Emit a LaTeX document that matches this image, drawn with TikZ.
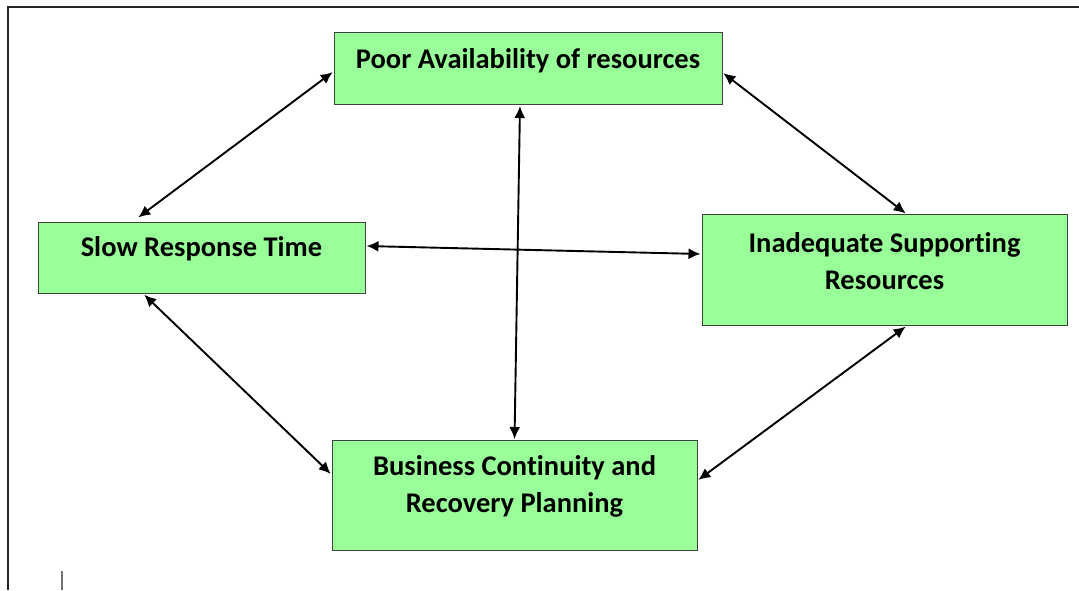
\documentclass[tikz,border=0pt]{standalone}
\usepackage{fontspec}
\setmainfont{Carlito}[Ligatures={NoCommon}]
\usetikzlibrary{arrows.meta}
\definecolor{boxgreen}{RGB}{153,255,153}

\begin{document}
\begin{tikzpicture} [x=0.5pt,y=-0.5pt,
			issue/.style={draw=black!75,line width=0.5pt,fill=boxgreen,align=center,inner xsep=0pt,inner ysep=0pt,
				font=\fontsize{14.25}{18.5}\selectfont\bfseries,anchor=north},
			link/.style={{Latex[length=6pt,width=5.5pt]}-{Latex[length=6pt,width=5.5pt]},line width=0.95pt,shorten >=0.5pt,shorten <=0.5pt}]
			\useasboundingbox (0,0) rectangle (1079,590);
			\draw[black!85,line width=0.6pt] (1079,7) -- (8,7) -- (8,590);
			\draw[black!55,line width=0.8pt] (62,571) -- (62,590);

			\node[issue,minimum width=194pt,text height=18pt,text depth=18pt] (poor) at (528,32) {Poor Availability of resources};
			\node[issue,minimum width=163.5pt,text height=17pt,text depth=18.5pt] (slow) at (201.5,222) {Slow Response Time};
			\node[issue,minimum width=182.5pt,text height=37.5pt,text depth=18pt] (inad) at (884.5,214) {Inadequate Supporting\\Resources};
			\node[issue,minimum width=182.5pt,text height=36pt,text depth=19pt] (bus) at (514.5,440) {Business Continuity and\\Recovery Planning};

			\draw[link] ([yshift=-1.5pt]poor.west) -- ([xshift=-32pt,yshift=2pt]slow.north);
			\draw[link] ([yshift=-2pt]poor.east) -- ([xshift=11pt]inad.north);
			\draw[link] ([xshift=-4pt]poor.south) -- (bus.north);
			\draw[link] ([yshift=6pt]slow.east) -- ([yshift=8pt]inad.west);
			\draw[link] ([xshift=-29pt]slow.south) -- ([yshift=10.5pt]bus.west);
			\draw[link] ([xshift=11pt]inad.south) -- ([yshift=7.5pt]bus.east);
		\end{tikzpicture}
\end{document}
